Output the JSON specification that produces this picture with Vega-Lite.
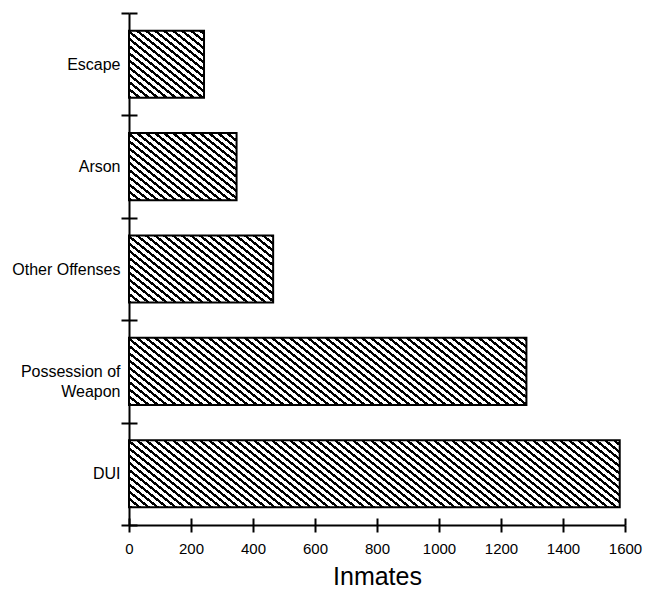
{
"$schema":"https://vega.github.io/schema/vega-lite/v6.json",
"width":496,"height":512,
"autosize":"none",
"padding":{"left":129,"top":13,"right":25,"bottom":64},
"background":"white",
"params":[{"name":"stops","value":[
{"offset":0.00,"color":"#000"},{"offset":0.004,"color":"#000"},{"offset":0.004,"color":"#fff"},{"offset":0.01,"color":"#fff"},
{"offset":0.01,"color":"#000"},{"offset":0.014,"color":"#000"},{"offset":0.014,"color":"#fff"},{"offset":0.02,"color":"#fff"},
{"offset":0.02,"color":"#000"},{"offset":0.024,"color":"#000"},{"offset":0.024,"color":"#fff"},{"offset":0.03,"color":"#fff"},
{"offset":0.03,"color":"#000"},{"offset":0.034,"color":"#000"},{"offset":0.034,"color":"#fff"},{"offset":0.04,"color":"#fff"},
{"offset":0.04,"color":"#000"},{"offset":0.044,"color":"#000"},{"offset":0.044,"color":"#fff"},{"offset":0.05,"color":"#fff"},
{"offset":0.05,"color":"#000"},{"offset":0.054,"color":"#000"},{"offset":0.054,"color":"#fff"},{"offset":0.06,"color":"#fff"},
{"offset":0.06,"color":"#000"},{"offset":0.064,"color":"#000"},{"offset":0.064,"color":"#fff"},{"offset":0.07,"color":"#fff"},
{"offset":0.07,"color":"#000"},{"offset":0.074,"color":"#000"},{"offset":0.074,"color":"#fff"},{"offset":0.08,"color":"#fff"},
{"offset":0.08,"color":"#000"},{"offset":0.084,"color":"#000"},{"offset":0.084,"color":"#fff"},{"offset":0.09,"color":"#fff"},
{"offset":0.09,"color":"#000"},{"offset":0.094,"color":"#000"},{"offset":0.094,"color":"#fff"},{"offset":0.10,"color":"#fff"},
{"offset":0.10,"color":"#000"},{"offset":0.104,"color":"#000"},{"offset":0.104,"color":"#fff"},{"offset":0.11,"color":"#fff"},
{"offset":0.11,"color":"#000"},{"offset":0.114,"color":"#000"},{"offset":0.114,"color":"#fff"},{"offset":0.12,"color":"#fff"},
{"offset":0.12,"color":"#000"},{"offset":0.124,"color":"#000"},{"offset":0.124,"color":"#fff"},{"offset":0.13,"color":"#fff"},
{"offset":0.13,"color":"#000"},{"offset":0.134,"color":"#000"},{"offset":0.134,"color":"#fff"},{"offset":0.14,"color":"#fff"},
{"offset":0.14,"color":"#000"},{"offset":0.144,"color":"#000"},{"offset":0.144,"color":"#fff"},{"offset":0.15,"color":"#fff"},
{"offset":0.15,"color":"#000"},{"offset":0.154,"color":"#000"},{"offset":0.154,"color":"#fff"},{"offset":0.16,"color":"#fff"},
{"offset":0.16,"color":"#000"},{"offset":0.164,"color":"#000"},{"offset":0.164,"color":"#fff"},{"offset":0.17,"color":"#fff"},
{"offset":0.17,"color":"#000"},{"offset":0.174,"color":"#000"},{"offset":0.174,"color":"#fff"},{"offset":0.18,"color":"#fff"},
{"offset":0.18,"color":"#000"},{"offset":0.184,"color":"#000"},{"offset":0.184,"color":"#fff"},{"offset":0.19,"color":"#fff"},
{"offset":0.19,"color":"#000"},{"offset":0.194,"color":"#000"},{"offset":0.194,"color":"#fff"},{"offset":0.20,"color":"#fff"},
{"offset":0.20,"color":"#000"},{"offset":0.204,"color":"#000"},{"offset":0.204,"color":"#fff"},{"offset":0.21,"color":"#fff"},
{"offset":0.21,"color":"#000"},{"offset":0.214,"color":"#000"},{"offset":0.214,"color":"#fff"},{"offset":0.22,"color":"#fff"},
{"offset":0.22,"color":"#000"},{"offset":0.224,"color":"#000"},{"offset":0.224,"color":"#fff"},{"offset":0.23,"color":"#fff"},
{"offset":0.23,"color":"#000"},{"offset":0.234,"color":"#000"},{"offset":0.234,"color":"#fff"},{"offset":0.24,"color":"#fff"},
{"offset":0.24,"color":"#000"},{"offset":0.244,"color":"#000"},{"offset":0.244,"color":"#fff"},{"offset":0.25,"color":"#fff"},
{"offset":0.25,"color":"#000"},{"offset":0.254,"color":"#000"},{"offset":0.254,"color":"#fff"},{"offset":0.26,"color":"#fff"},
{"offset":0.26,"color":"#000"},{"offset":0.264,"color":"#000"},{"offset":0.264,"color":"#fff"},{"offset":0.27,"color":"#fff"},
{"offset":0.27,"color":"#000"},{"offset":0.274,"color":"#000"},{"offset":0.274,"color":"#fff"},{"offset":0.28,"color":"#fff"},
{"offset":0.28,"color":"#000"},{"offset":0.284,"color":"#000"},{"offset":0.284,"color":"#fff"},{"offset":0.29,"color":"#fff"},
{"offset":0.29,"color":"#000"},{"offset":0.294,"color":"#000"},{"offset":0.294,"color":"#fff"},{"offset":0.30,"color":"#fff"},
{"offset":0.30,"color":"#000"},{"offset":0.304,"color":"#000"},{"offset":0.304,"color":"#fff"},{"offset":0.31,"color":"#fff"},
{"offset":0.31,"color":"#000"},{"offset":0.314,"color":"#000"},{"offset":0.314,"color":"#fff"},{"offset":0.32,"color":"#fff"},
{"offset":0.32,"color":"#000"},{"offset":0.324,"color":"#000"},{"offset":0.324,"color":"#fff"},{"offset":0.33,"color":"#fff"},
{"offset":0.33,"color":"#000"},{"offset":0.334,"color":"#000"},{"offset":0.334,"color":"#fff"},{"offset":0.34,"color":"#fff"},
{"offset":0.34,"color":"#000"},{"offset":0.344,"color":"#000"},{"offset":0.344,"color":"#fff"},{"offset":0.35,"color":"#fff"},
{"offset":0.35,"color":"#000"},{"offset":0.354,"color":"#000"},{"offset":0.354,"color":"#fff"},{"offset":0.36,"color":"#fff"},
{"offset":0.36,"color":"#000"},{"offset":0.364,"color":"#000"},{"offset":0.364,"color":"#fff"},{"offset":0.37,"color":"#fff"},
{"offset":0.37,"color":"#000"},{"offset":0.374,"color":"#000"},{"offset":0.374,"color":"#fff"},{"offset":0.38,"color":"#fff"},
{"offset":0.38,"color":"#000"},{"offset":0.384,"color":"#000"},{"offset":0.384,"color":"#fff"},{"offset":0.39,"color":"#fff"},
{"offset":0.39,"color":"#000"},{"offset":0.394,"color":"#000"},{"offset":0.394,"color":"#fff"},{"offset":0.40,"color":"#fff"},
{"offset":0.40,"color":"#000"},{"offset":0.404,"color":"#000"},{"offset":0.404,"color":"#fff"},{"offset":0.41,"color":"#fff"},
{"offset":0.41,"color":"#000"},{"offset":0.414,"color":"#000"},{"offset":0.414,"color":"#fff"},{"offset":0.42,"color":"#fff"},
{"offset":0.42,"color":"#000"},{"offset":0.424,"color":"#000"},{"offset":0.424,"color":"#fff"},{"offset":0.43,"color":"#fff"},
{"offset":0.43,"color":"#000"},{"offset":0.434,"color":"#000"},{"offset":0.434,"color":"#fff"},{"offset":0.44,"color":"#fff"},
{"offset":0.44,"color":"#000"},{"offset":0.444,"color":"#000"},{"offset":0.444,"color":"#fff"},{"offset":0.45,"color":"#fff"},
{"offset":0.45,"color":"#000"},{"offset":0.454,"color":"#000"},{"offset":0.454,"color":"#fff"},{"offset":0.46,"color":"#fff"},
{"offset":0.46,"color":"#000"},{"offset":0.464,"color":"#000"},{"offset":0.464,"color":"#fff"},{"offset":0.47,"color":"#fff"},
{"offset":0.47,"color":"#000"},{"offset":0.474,"color":"#000"},{"offset":0.474,"color":"#fff"},{"offset":0.48,"color":"#fff"},
{"offset":0.48,"color":"#000"},{"offset":0.484,"color":"#000"},{"offset":0.484,"color":"#fff"},{"offset":0.49,"color":"#fff"},
{"offset":0.49,"color":"#000"},{"offset":0.494,"color":"#000"},{"offset":0.494,"color":"#fff"},{"offset":0.50,"color":"#fff"},
{"offset":0.50,"color":"#000"},{"offset":0.504,"color":"#000"},{"offset":0.504,"color":"#fff"},{"offset":0.51,"color":"#fff"},
{"offset":0.51,"color":"#000"},{"offset":0.514,"color":"#000"},{"offset":0.514,"color":"#fff"},{"offset":0.52,"color":"#fff"},
{"offset":0.52,"color":"#000"},{"offset":0.524,"color":"#000"},{"offset":0.524,"color":"#fff"},{"offset":0.53,"color":"#fff"},
{"offset":0.53,"color":"#000"},{"offset":0.534,"color":"#000"},{"offset":0.534,"color":"#fff"},{"offset":0.54,"color":"#fff"},
{"offset":0.54,"color":"#000"},{"offset":0.544,"color":"#000"},{"offset":0.544,"color":"#fff"},{"offset":0.55,"color":"#fff"},
{"offset":0.55,"color":"#000"},{"offset":0.554,"color":"#000"},{"offset":0.554,"color":"#fff"},{"offset":0.56,"color":"#fff"},
{"offset":0.56,"color":"#000"},{"offset":0.564,"color":"#000"},{"offset":0.564,"color":"#fff"},{"offset":0.57,"color":"#fff"},
{"offset":0.57,"color":"#000"},{"offset":0.574,"color":"#000"},{"offset":0.574,"color":"#fff"},{"offset":0.58,"color":"#fff"},
{"offset":0.58,"color":"#000"},{"offset":0.584,"color":"#000"},{"offset":0.584,"color":"#fff"},{"offset":0.59,"color":"#fff"},
{"offset":0.59,"color":"#000"},{"offset":0.594,"color":"#000"},{"offset":0.594,"color":"#fff"},{"offset":0.60,"color":"#fff"},
{"offset":0.60,"color":"#000"},{"offset":0.604,"color":"#000"},{"offset":0.604,"color":"#fff"},{"offset":0.61,"color":"#fff"},
{"offset":0.61,"color":"#000"},{"offset":0.614,"color":"#000"},{"offset":0.614,"color":"#fff"},{"offset":0.62,"color":"#fff"},
{"offset":0.62,"color":"#000"},{"offset":0.624,"color":"#000"},{"offset":0.624,"color":"#fff"},{"offset":0.63,"color":"#fff"},
{"offset":0.63,"color":"#000"},{"offset":0.634,"color":"#000"},{"offset":0.634,"color":"#fff"},{"offset":0.64,"color":"#fff"},
{"offset":0.64,"color":"#000"},{"offset":0.644,"color":"#000"},{"offset":0.644,"color":"#fff"},{"offset":1.0,"color":"#fff"}
]}],
"data":{"values":[
{"offense":"Escape","inmates":242},
{"offense":"Arson","inmates":347},
{"offense":"Other Offenses","inmates":465},
{"offense":"Possession of Weapon","inmates":1282},
{"offense":"DUI","inmates":1583}
]},
"layer":[
{"mark":{"type":"bar","stroke":"black","strokeWidth":2,"height":{"band":0.655}},
 "encoding":{
  "y":{"field":"offense","type":"nominal","sort":["Escape","Arson","Other Offenses","Possession of Weapon","DUI"],
       "scale":{"paddingInner":0,"paddingOuter":0},
       "axis":{"orient":"left","title":null,"domain":true,"domainWidth":2,"ticks":true,"tickBand":"extent","tickSize":8,"tickWidth":2,"labelFontSize":16,"labelPadding":1,"labelLineHeight":20,"labelExpr":"datum.value == 'Possession of Weapon' ? ['Possession of', 'Weapon'] : datum.value"}},
  "x":{"field":"inmates","type":"quantitative","scale":{"domain":[0,1600],"nice":false},
       "axis":{"orient":"bottom","values":[0,200,400,600,800,1000,1200,1400,1600],"format":"d","title":"Inmates","titleFontSize":25,"titleFontWeight":"normal","titlePadding":8,"domainWidth":2,"tickSize":7,"tickWidth":2,"labelFontSize":15,"labelPadding":9,"labelFlush":false,"labelOverlap":false}},
  "fill":{"value":{"expr":"{gradient: 'linear', x1: 0, y1: 1, x2: (scale('x', datum.inmates)/900) / (pow(scale('x', datum.inmates)/900, 2) + pow(bandwidth('y')*0.655/720, 2)), y2: 1 - (bandwidth('y')*0.655/720) / (pow(scale('x', datum.inmates)/900, 2) + pow(bandwidth('y')*0.655/720, 2)), stops: stops}"}}
 }},
{"mark":{"type":"bar","opacity":0,"height":{"band":0.655}},
 "encoding":{
  "y":{"field":"offense","type":"nominal","sort":["Escape","Arson","Other Offenses","Possession of Weapon","DUI"],
       "axis":{"orient":"left","offset":-8,"title":null,"domain":false,"labels":false,"ticks":true,"tickBand":"extent","tickSize":8,"tickWidth":2}},
  "x":{"field":"inmates","type":"quantitative",
       "axis":{"orient":"bottom","offset":-7,"title":null,"domain":false,"labels":false,"values":[0,200,400,600,800,1000,1200,1400,1600],"tickSize":7,"tickWidth":2}}
 }}
],
"resolve":{"axis":{"x":"independent","y":"independent"}},
"config":{"view":{"stroke":null},
 "axis":{"labelFont":"Liberation Sans","titleFont":"Liberation Sans","domainColor":"black","tickColor":"black","labelColor":"black","titleColor":"black","grid":false}}
}
